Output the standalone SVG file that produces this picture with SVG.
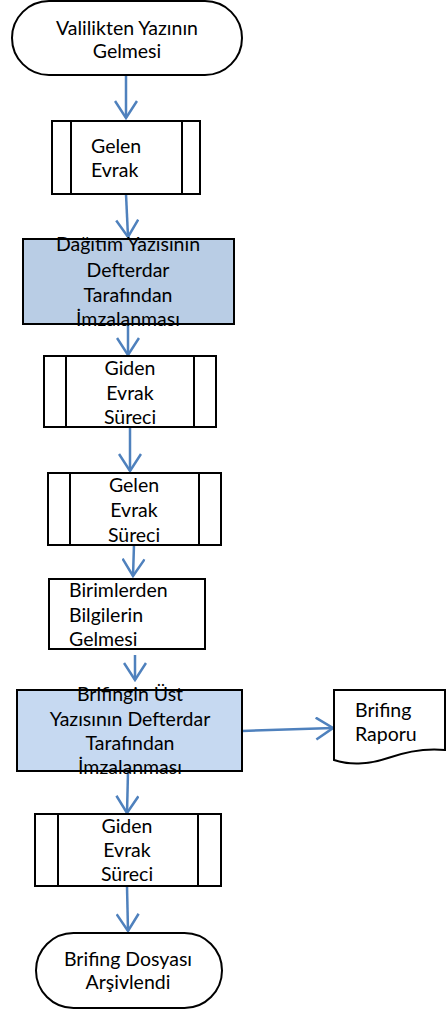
<svg xmlns="http://www.w3.org/2000/svg" width="446" height="1012" viewBox="0 0 446 1012">
<style>
.n{fill:#fff;stroke:#000;stroke-width:2}
.f1{fill:#B9CDE5;stroke:#000;stroke-width:2}
.f2{fill:#C6D9F1;stroke:#000;stroke-width:2}
.t{font-family:Lato,"Open Sans",sans-serif;font-size:19.5px;fill:#000}
.c{text-anchor:middle}
.e{fill:none;stroke:#4F81BD;stroke-width:2.5}
</style>
<defs>
<marker id="a" viewBox="0 0 20 24" refX="18" refY="12" markerWidth="20" markerHeight="24" markerUnits="userSpaceOnUse" orient="auto">
<path d="M1,1 L18,12 L1,23" fill="none" stroke="#4F81BD" stroke-width="2.5"/>
</marker>
</defs>
<g id="connectors">
<path class="e" marker-end="url(#a)" d="M126,75 L126,118"/>
<path class="e" marker-end="url(#a)" d="M126,194 L128,237"/>
<path class="e" marker-end="url(#a)" d="M128,324 L128,355"/>
<path class="e" marker-end="url(#a)" d="M130,427 L130,471"/>
<path class="e" marker-end="url(#a)" d="M134,545 L133,576"/>
<path class="e" marker-end="url(#a)" d="M135,655 L135,680"/>
<path class="e" marker-end="url(#a)" d="M242,731 L333,728"/>
<path class="e" marker-end="url(#a)" d="M128,772 L127,813"/>
<path class="e" marker-end="url(#a)" d="M127,886 L128,931"/>
</g>
<g id="n1">
<rect class="n" x="12" y="1" width="230" height="74" rx="37" ry="37"/>
<text class="t c" x="127" y="35">Valilikten Yazının</text>
<text class="t c" x="127" y="58">Gelmesi</text>
</g>
<g id="n2">
<rect class="n" x="52" y="121" width="148" height="73"/>
<path class="n" d="M71,121 V194 M182,121 V194"/>
<text class="t" x="91" y="153">Gelen</text>
<text class="t" x="91" y="177">Evrak</text>
</g>
<g id="n3">
<rect class="f1" x="23" y="239" width="211" height="85"/>
<text class="t c" x="128" y="251">Dağıtım Yazısının</text>
<text class="t c" x="128" y="277">Defterdar</text>
<text class="t c" x="128" y="302">Tarafından</text>
<text class="t c" x="128" y="326">İmzalanması</text>
</g>
<g id="n4">
<rect class="n" x="44" y="356" width="172" height="71"/>
<path class="n" d="M66,356 V427 M194,356 V427"/>
<text class="t c" x="130" y="375">Giden</text>
<text class="t c" x="130" y="400">Evrak</text>
<text class="t c" x="130" y="424">Süreci</text>
</g>
<g id="n5">
<rect class="n" x="48" y="473" width="173" height="72"/>
<path class="n" d="M70,473 V545 M199,473 V545"/>
<text class="t c" x="134" y="492">Gelen</text>
<text class="t c" x="134" y="517">Evrak</text>
<text class="t c" x="134" y="542">Süreci</text>
</g>
<g id="n6">
<rect class="n" x="49" y="579" width="156" height="70"/>
<text class="t" x="69" y="597">Birimlerden</text>
<text class="t" x="69" y="622">Bilgilerin</text>
<text class="t" x="69" y="646">Gelmesi</text>
</g>
<g id="n7">
<rect class="f2" x="17" y="690" width="225" height="81"/>
<text class="t c" x="130" y="701">Brifingin Üst</text>
<text class="t c" x="130" y="726">Yazısının Defterdar</text>
<text class="t c" x="130" y="750">Tarafından</text>
<text class="t c" x="130" y="774">İmzalanması</text>
</g>
<g id="n8">
<path class="n" d="M334,690 H445 V750 C425,748 405,752 388,758 C368,765 348,765 334,760 Z"/>
<text class="t" x="355" y="717">Brifing</text>
<text class="t" x="355" y="741">Raporu</text>
</g>
<g id="n9">
<rect class="n" x="35" y="814" width="186" height="72"/>
<path class="n" d="M58,814 V886 M198,814 V886"/>
<text class="t c" x="127" y="833">Giden</text>
<text class="t c" x="127" y="857">Evrak</text>
<text class="t c" x="127" y="881">Süreci</text>
</g>
<g id="n10">
<rect class="n" x="36" y="933" width="186" height="75" rx="37.5" ry="37.5"/>
<text class="t c" x="128" y="966">Brifing Dosyası</text>
<text class="t c" x="128" y="989">Arşivlendi</text>
</g>
</svg>
